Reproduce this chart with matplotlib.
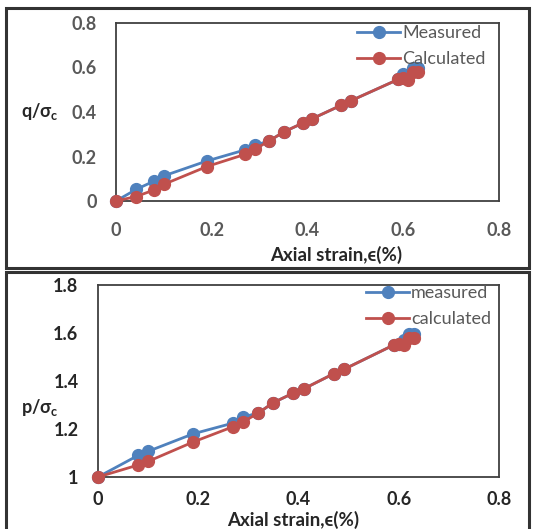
import matplotlib
matplotlib.use("Agg")
import matplotlib.pyplot as plt
from matplotlib.patches import Rectangle

plt.rcParams['font.family'] = ['Lato', 'DejaVu Sans']
plt.rcParams['mathtext.fontset'] = 'custom'
plt.rcParams['mathtext.rm'] = 'Lato:bold'
plt.rcParams['mathtext.it'] = 'Lato:bold'
plt.rcParams['mathtext.bf'] = 'Lato:bold'

# Top chart: q/sigma_c
q_strain_meas = [0, 0.042, 0.08, 0.10, 0.19, 0.27, 0.29, 0.32, 0.35, 0.39, 0.41, 0.47, 0.49, 0.59, 0.60, 0.62, 0.63]
q_meas = [0, 0.052, 0.09, 0.113, 0.18, 0.23, 0.25, 0.27, 0.31, 0.35, 0.37, 0.43, 0.45, 0.547, 0.57, 0.60, 0.60]
q_strain_calc = [0, 0.042, 0.08, 0.10, 0.19, 0.27, 0.29, 0.32, 0.35, 0.39, 0.41, 0.47, 0.49, 0.59, 0.60, 0.61, 0.62, 0.63]
q_calc = [0, 0.02, 0.05, 0.075, 0.155, 0.21, 0.233, 0.27, 0.31, 0.35, 0.37, 0.43, 0.45, 0.547, 0.555, 0.543, 0.58, 0.58]

# Bottom chart: p/sigma_c
p_strain_meas = [0, 0.08, 0.10, 0.19, 0.27, 0.29, 0.32, 0.35, 0.39, 0.41, 0.47, 0.49, 0.59, 0.60, 0.61, 0.62, 0.63]
p_meas = [1.0, 1.09, 1.107, 1.18, 1.225, 1.25, 1.267, 1.31, 1.35, 1.367, 1.43, 1.448, 1.55, 1.556, 1.57, 1.595, 1.595]
p_strain_calc = [0, 0.08, 0.10, 0.19, 0.27, 0.29, 0.32, 0.35, 0.39, 0.41, 0.47, 0.49, 0.59, 0.60, 0.61, 0.62, 0.63]
p_calc = [1.0, 1.05, 1.065, 1.146, 1.21, 1.23, 1.267, 1.31, 1.35, 1.367, 1.43, 1.448, 1.55, 1.556, 1.55, 1.58, 1.58]

x_ticks = [0, 0.2, 0.4, 0.6, 0.8]
x_ticklabels = ['0', '0.2', '0.4', '0.6', '0.8']
q_ticks = [0, 0.2, 0.4, 0.6, 0.8]
q_ticklabels = ['0', '0.2', '0.4', '0.6', '0.8']
p_ticks = [1.0, 1.2, 1.4, 1.6, 1.8]
p_ticklabels = ['1', '1.2', '1.4', '1.6', '1.8']

BLUE = '#4F81BD'
RED = '#C0504D'
W, H = 534, 529

fig = plt.figure(figsize=(W / 100, H / 100), dpi=100)

def fx(px):
    return px / W

def fy(py):
    return 1 - py / H

# frames
for (x0, y0, x1, y1) in [(6, 8, 529, 268), (6, 272, 529, 535)]:
    fig.add_artist(Rectangle((fx(x0), fy(y1)), fx(x1) - fx(x0), fy(y0) - fy(y1),
                             transform=fig.transFigure, fill=False,
                             edgecolor='#333333', linewidth=2.2, clip_on=False))

def make_axes(rect, xs_m, ys_m, xs_c, ys_c, yticks, yticklabels, ylim,
              tick_color, labels, legend_anchor):
    ax = fig.add_axes(rect)
    ax.plot(xs_m, ys_m, color=BLUE, lw=2.0, marker='o', ms=8.5, label=labels[0],
            clip_on=False, zorder=3)
    ax.plot(xs_c, ys_c, color=RED, lw=2.0, marker='o', ms=8.5, label=labels[1],
            clip_on=False, zorder=4)
    ax.set_xlim(0, 0.8)
    ax.set_ylim(*ylim)
    ax.set_xticks(x_ticks)
    ax.set_xticklabels(x_ticklabels)
    ax.set_yticks(yticks)
    ax.set_yticklabels(yticklabels)
    ax.tick_params(length=0, labelsize=13, labelcolor=tick_color)
    for lab in ax.get_xticklabels() + ax.get_yticklabels():
        lab.set_fontweight('bold')
    for s in ax.spines.values():
        s.set_color('#404040')
        s.set_linewidth(1.3)
    leg = ax.legend(loc='upper left', bbox_to_anchor=legend_anchor,
                    bbox_transform=fig.transFigure, frameon=False,
                    fontsize=13, handlelength=2.4, handletextpad=0.1,
                    labelspacing=0.55, borderpad=0, borderaxespad=0)
    for t in leg.get_texts():
        t.set_color('#595959')
    return ax

ax1 = make_axes([fx(116), fy(201), fx(499) - fx(116), fy(23) - fy(201)],
                q_strain_meas, q_meas, q_strain_calc, q_calc,
                q_ticks, q_ticklabels, (0, 0.8), '#595959',
                ('Measured', 'Calculated'), (fx(357), fy(25)))
ax1.tick_params(axis='x', pad=15)
ax1.tick_params(axis='y', pad=14)

ax2 = make_axes([fx(98), fy(477), fx(499) - fx(98), fy(285) - fy(477)],
                p_strain_meas, p_meas, p_strain_calc, p_calc,
                p_ticks, p_ticklabels, (1.0, 1.8), '#262626',
                ('measured', 'calculated'), (fx(366), fy(285)))
ax2.tick_params(axis='x', pad=10)
ax2.tick_params(axis='y', pad=14)

fig.text(fx(336), fy(255), 'Axial strain,ϵ(%)', ha='center', va='center',
         fontsize=13.5, fontweight='bold', color='#262626')
fig.text(fx(293), fy(520), 'Axial strain,ϵ(%)', ha='center', va='center',
         fontsize=13.5, fontweight='bold', color='#262626')
fig.text(fx(40), fy(112), r'q/σ$_\mathrm{c}$', ha='center', va='center',
         fontsize=13, fontweight='bold', color='#262626')
fig.text(fx(40), fy(407), r'p/σ$_\mathrm{c}$', ha='center', va='center',
         fontsize=13, fontweight='bold', color='#262626')

fig.savefig('out.png', dpi=100)
